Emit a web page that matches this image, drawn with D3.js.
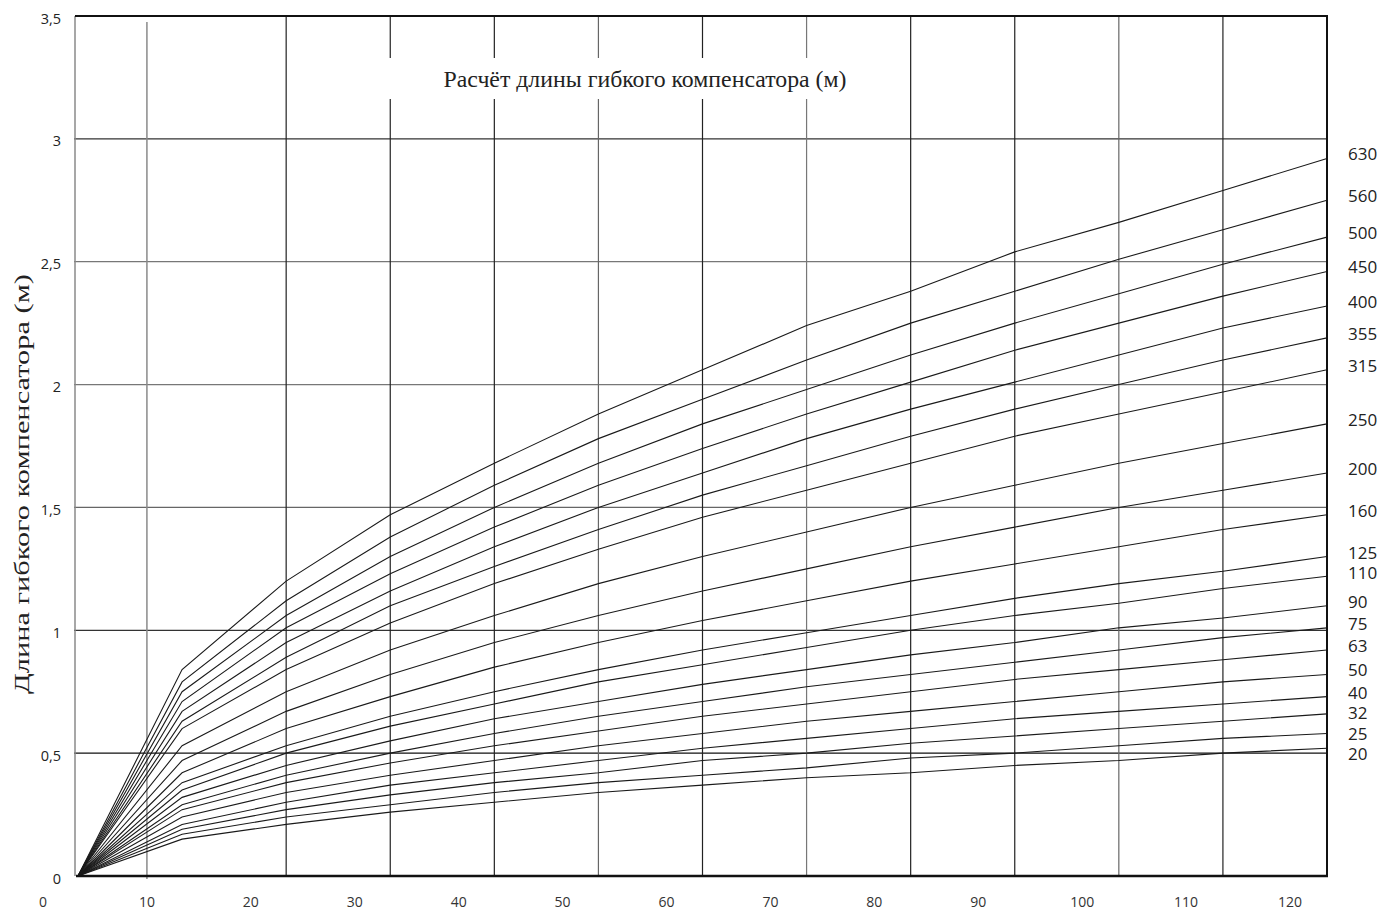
<!DOCTYPE html>
<html><head><meta charset="utf-8">
<script src="https://cdn.jsdelivr.net/npm/d3@7"></script>
<style>
html,body{margin:0;padding:0;background:#fff;}
svg{display:block;}
</style></head>
<body>
<svg id="chart" width="1394" height="910"></svg>
<script>
// ---------- DATA ----------
const xValues = [0, 10, 20, 30, 40, 50, 60, 70, 80, 90, 100, 110, 120];
const seriesNames = ["630","560","500","450","400","355","315","250","200","160","125","110","90","75","63","50","40","32","25","20"];
const d630 = [0, 0.84, 1.20, 1.47, 1.68, 1.88, 2.06, 2.24, 2.38, 2.54, 2.66, 2.79, 2.92];
const d560 = [0, 0.79, 1.12, 1.38, 1.59, 1.78, 1.94, 2.10, 2.25, 2.38, 2.51, 2.63, 2.75];
const d500 = [0, 0.75, 1.06, 1.30, 1.50, 1.68, 1.84, 1.98, 2.12, 2.25, 2.37, 2.49, 2.60];
const d450 = [0, 0.71, 1.01, 1.23, 1.42, 1.59, 1.74, 1.88, 2.01, 2.14, 2.25, 2.36, 2.46];
const d400 = [0, 0.67, 0.95, 1.16, 1.34, 1.50, 1.64, 1.78, 1.90, 2.01, 2.12, 2.23, 2.32];
const d355 = [0, 0.63, 0.89, 1.10, 1.26, 1.41, 1.55, 1.67, 1.79, 1.90, 2.00, 2.10, 2.19];
const d315 = [0, 0.60, 0.84, 1.03, 1.19, 1.33, 1.46, 1.57, 1.68, 1.79, 1.88, 1.97, 2.06];
const d250 = [0, 0.53, 0.75, 0.92, 1.06, 1.19, 1.30, 1.40, 1.50, 1.59, 1.68, 1.76, 1.84];
const d200 = [0, 0.47, 0.67, 0.82, 0.95, 1.06, 1.16, 1.25, 1.34, 1.42, 1.50, 1.57, 1.64];
const d160 = [0, 0.42, 0.60, 0.73, 0.85, 0.95, 1.04, 1.12, 1.20, 1.27, 1.34, 1.41, 1.47];
const d125 = [0, 0.38, 0.53, 0.65, 0.75, 0.84, 0.92, 0.99, 1.06, 1.13, 1.19, 1.24, 1.30];
const d110 = [0, 0.35, 0.50, 0.61, 0.70, 0.79, 0.86, 0.93, 1.00, 1.06, 1.11, 1.17, 1.22];
const d90  = [0, 0.32, 0.45, 0.55, 0.64, 0.71, 0.78, 0.84, 0.90, 0.95, 1.01, 1.05, 1.10];
const d75  = [0, 0.29, 0.41, 0.50, 0.58, 0.65, 0.71, 0.77, 0.82, 0.87, 0.92, 0.97, 1.01];
const d63  = [0, 0.27, 0.38, 0.46, 0.53, 0.59, 0.65, 0.70, 0.75, 0.80, 0.84, 0.88, 0.92];
const d50  = [0, 0.24, 0.34, 0.41, 0.47, 0.53, 0.58, 0.63, 0.67, 0.71, 0.75, 0.79, 0.82];
const d40  = [0, 0.21, 0.30, 0.37, 0.42, 0.47, 0.52, 0.56, 0.60, 0.64, 0.67, 0.70, 0.73];
const d32  = [0, 0.19, 0.27, 0.33, 0.38, 0.42, 0.47, 0.50, 0.54, 0.57, 0.60, 0.63, 0.66];
const d25  = [0, 0.17, 0.24, 0.29, 0.34, 0.38, 0.41, 0.44, 0.48, 0.50, 0.53, 0.56, 0.58];
const d20  = [0, 0.15, 0.21, 0.26, 0.30, 0.34, 0.37, 0.40, 0.42, 0.45, 0.47, 0.50, 0.52];
const seriesValues = [d630,d560,d500,d450,d400,d355,d315,d250,d200,d160,d125,d110,d90,d75,d63,d50,d40,d32,d25,d20];

const xTickValues = [0, 10, 20, 30, 40, 50, 60, 70, 80, 90, 100, 110, 120];
const xTickLabels = ["0","10","20","30","40","50","60","70","80","90","100","110","120"];
const yTickValues = [0, 0.5, 1, 1.5, 2, 2.5, 3, 3.5];
const yTickLabels = ["0","0,5","1","1,5","2","2,5","3","3,5"];
const gridX = [20, 30, 40, 50, 60, 70, 80, 90, 100, 110];
const titleText = "Расчёт длины гибкого компенсатора (м)";
const yTitleText = "Длина гибкого компенсатора (м)";

// ---------- LAYOUT ----------
const plotLeft = 78, plotRight = 1327, plotTop = 16, plotBottom = 876;
const xData = d3.scaleLinear().domain([0, 120]).range([plotLeft, plotRight]);
const xLab = d3.scaleLinear().domain([0, 120]).range([43, 1290]);
const y = d3.scaleLinear().domain([0, 3.5]).range([plotBottom, plotTop]);

const svg = d3.select("#chart");
const sans = "'Open Sans', 'DejaVu Sans', sans-serif";
const serif = "'Liberation Serif', 'Times New Roman', serif";

// horizontal gridlines
const hStroke = {0.5:"#111", 1:"#333", 1.5:"#666", 2:"#777", 2.5:"#777", 3:"#333"};
svg.append("g").selectAll("line").data(yTickValues.filter(v => v > 0 && v < 3.5)).join("line")
  .attr("x1", 74).attr("x2", plotRight)
  .attr("y1", d => y(d)).attr("y2", d => y(d))
  .attr("stroke", d => hStroke[d] || "#333").attr("stroke-width", 1.2);

// vertical gridlines
const vStroke = {50:"#666", 70:"#777", 100:"#666"};
svg.append("g").selectAll("line").data(gridX).join("line")
  .attr("x1", d => xData(d)).attr("x2", d => xData(d))
  .attr("y1", plotTop).attr("y2", plotBottom)
  .attr("stroke", d => vStroke[d] || "#222").attr("stroke-width", 1.2);

// gray line under the "10" label
svg.append("line")
  .attr("x1", xLab(10)).attr("x2", xLab(10)).attr("y1", 22).attr("y2", 879)
  .attr("stroke", "#8a8a8a").attr("stroke-width", 1.5);

// left gray axis
svg.append("line").attr("x1", 75).attr("x2", 75).attr("y1", plotTop).attr("y2", plotBottom)
  .attr("stroke", "#8a8a8a").attr("stroke-width", 1.5);

// title background + title
svg.append("rect").attr("x", 380).attr("y", 58).attr("width", 495).attr("height", 41).attr("fill", "#fff");
svg.append("text").attr("x", 645).attr("y", 87).attr("text-anchor", "middle")
  .attr("font-family", serif).attr("font-size", 24).attr("fill", "#222")
  .attr("textLength", 403).attr("lengthAdjust", "spacingAndGlyphs")
  .text(titleText);

// curves
const line = d3.line().x((d, i) => xData(xValues[i])).y(d => y(d));
svg.append("g").selectAll("path").data(seriesValues).join("path")
  .attr("d", d => line(d)).attr("fill", "none")
  .attr("stroke", "#1a1a1a").attr("stroke-width", 1.1);

// borders
svg.append("line").attr("x1", 75).attr("x2", plotRight + 1).attr("y1", plotTop).attr("y2", plotTop)
  .attr("stroke", "#111").attr("stroke-width", 2);
svg.append("line").attr("x1", plotRight).attr("x2", plotRight).attr("y1", plotTop).attr("y2", plotBottom)
  .attr("stroke", "#111").attr("stroke-width", 2);
svg.append("line").attr("x1", 76).attr("x2", plotRight + 1).attr("y1", plotBottom).attr("y2", plotBottom)
  .attr("stroke", "#111").attr("stroke-width", 2.5);

// y tick labels
svg.append("g").selectAll("text").data(yTickValues).join("text")
  .attr("x", 61).attr("y", d => y(d) + 7.5).attr("text-anchor", "end")
  .attr("font-family", sans).attr("font-size", 14.5).attr("fill", "#222")
  .text((d, i) => yTickLabels[i]);

// x tick labels
svg.append("g").selectAll("text").data(xTickValues).join("text")
  .attr("x", d => xLab(d)).attr("y", 907).attr("text-anchor", "middle")
  .attr("font-family", sans).attr("font-size", 14).attr("fill", "#333")
  .text((d, i) => xTickLabels[i]);

// y axis title
svg.append("text")
  .attr("transform", "translate(29," + 484 + ") rotate(-90)")
  .attr("text-anchor", "middle")
  .attr("font-family", serif).attr("font-size", 21).attr("fill", "#222")
  .attr("textLength", 420).attr("lengthAdjust", "spacingAndGlyphs")
  .text(yTitleText);

// series labels at right, with simple collision avoidance
const labelY = [];
seriesValues.forEach((vals, i) => {
  let ly = y(vals[vals.length - 1]) - 4;
  if (i > 0) ly = Math.max(ly, labelY[i - 1] + 20.5);
  labelY.push(ly);
});
svg.append("g").selectAll("text").data(seriesNames).join("text")
  .attr("x", 1348).attr("y", (d, i) => labelY[i]).attr("dy", "0.35em")
  .attr("font-family", sans).attr("font-size", 17).attr("fill", "#222")
  .text(d => d);
</script>
</body></html>
